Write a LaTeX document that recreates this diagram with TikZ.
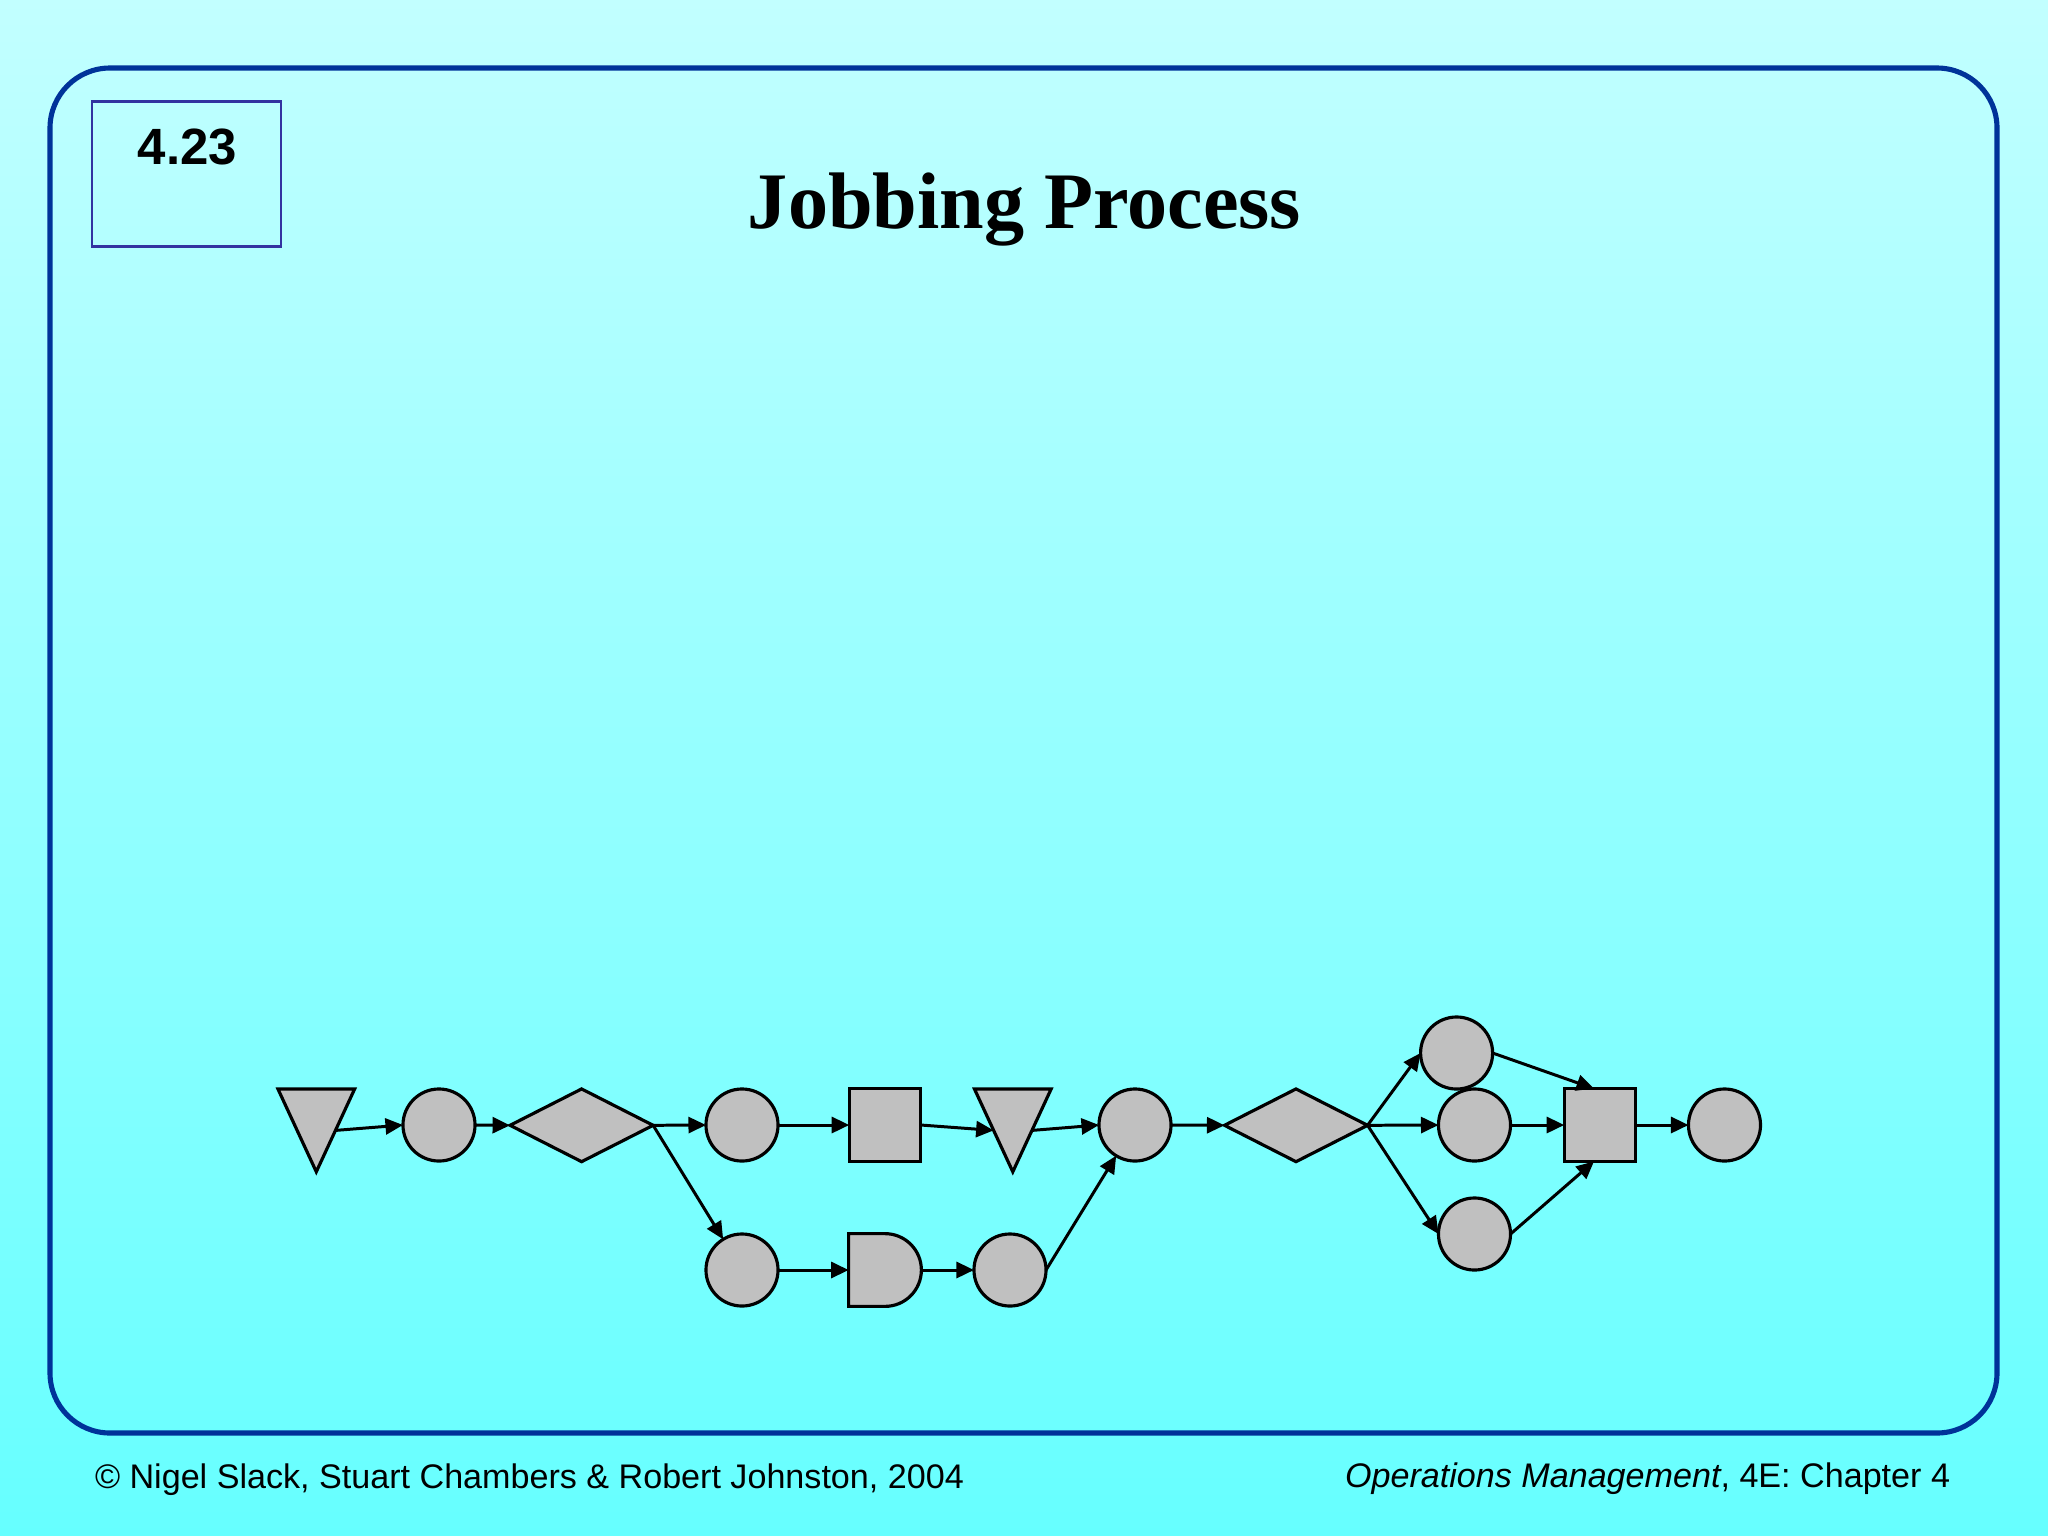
\documentclass[tikz,border=0pt]{standalone}
\usepackage{fontspec}
\setmainfont{Liberation Sans}
\newfontfamily\titlefont{Liberation Serif}
\usetikzlibrary{shapes.geometric,shapes.misc,arrows.meta,calc}
\definecolor{bgtop}{RGB}{194,255,255}
\definecolor{bgbot}{RGB}{102,255,255}
\definecolor{framecol}{RGB}{0,51,153}
\definecolor{boxcol}{RGB}{51,51,160}
\definecolor{shapegray}{RGB}{192,192,192}
\begin{document}
\begin{tikzpicture}[x=0.01cm,y=-0.01cm,
  every node/.style={inner sep=0pt, outer sep=0pt},
  shapeline/.style={draw=black, fill=shapegray, line width=0.9pt, line join=miter},
  opcircle/.style={shapeline, shape=circle, minimum size=0.72cm},
  opsquare/.style={shapeline, shape=rectangle, minimum width=0.715cm, minimum height=0.727cm},
  opdiamond/.style={shapeline, shape=diamond, minimum width=1.43cm, minimum height=0.727cm},
  opdelay/.style={shapeline, shape=rounded rectangle, rounded rectangle left arc=none, minimum width=0.72cm, minimum height=0.727cm},
  tribox/.style={shape=rectangle, minimum width=0.766cm, minimum height=0.827cm},
  conn/.style={draw=black, line width=0.85pt, -{Triangle[length=0.175cm,width=0.16cm]}},
  footer/.style={font=\fontsize{9.7}{11.5}\selectfont}
]
\useasboundingbox (0,0) rectangle (2048,1536);
\shade[top color=bgtop, bottom color=bgbot] (0,0) rectangle (2048,1536);

% frame
\draw[framecol, line width=1.45pt, rounded corners=0.6cm] (50,68) rectangle (1997,1433);
% number box
\node[draw=boxcol, line width=0.8pt, minimum width=1.89cm, minimum height=1.45cm] (numbox) at (186.5,174.2) {};
\node[anchor=base, font=\fontsize{14.5}{17}\selectfont\bfseries] (num) at (187.5,164) {4.23};
% title
\node[anchor=base, font=\titlefont\fontsize{22.8}{27}\selectfont\bfseries] (title) at (1024.5,228) {Jobbing Process};

% shapes
\node[tribox] (t1) at (316.3,1130.4) {};
\draw[shapeline] (t1.north west) -- (t1.north east) -- (t1.south) -- cycle;
\node[opcircle] (c1) at (439,1125) {};
\node[opdiamond] (d1) at (581.6,1125.3) {};
\node[opcircle] (c2) at (742,1125) {};
\node[opsquare] (s1) at (885,1125) {};
\node[tribox] (t2) at (1012.8,1130.4) {};
\draw[shapeline] (t2.north west) -- (t2.north east) -- (t2.south) -- cycle;
\node[opcircle] (c5) at (1135,1125) {};
\node[opdiamond] (d2) at (1296,1125.3) {};
\node[opcircle] (ct) at (1456.6,1053) {};
\node[opcircle] (cm) at (1474.5,1125) {};
\node[opcircle] (cb) at (1474.5,1234) {};
\node[opsquare] (s2) at (1600,1125) {};
\node[opcircle] (c6) at (1724.5,1125) {};
\node[opcircle] (c3) at (742,1270) {};
\node[opdelay] (dd) at (885,1270) {};
\node[opcircle] (c4) at (1010,1270) {};

\coordinate (t1r) at ($(t1.north east)!0.5!(t1.south)$);
\coordinate (t2l) at ($(t2.north west)!0.5!(t2.south)$);
\coordinate (t2r) at ($(t2.north east)!0.5!(t2.south)$);

% connectors
\draw[conn] (t1r) -- (c1.west);
\draw[conn] (c1.east) -- (d1.west);
\draw[conn] (d1.east) -- (c2.west);
\draw[conn] (c2.east) -- (s1.west);
\draw[conn] (s1.east) -- (t2l);
\draw[conn] (t2r) -- (c5.west);
\draw[conn] (c5.east) -- (d2.west);
\draw[conn] (d2.east) -- (ct.west);
\draw[conn] (d2.east) -- (cm.west);
\draw[conn] (d2.east) -- (cb.west);
\draw[conn] (ct.east) -- ($(s2.north)+(-6,0)$);
\draw[conn] (cm.east) -- (s2.west);
\draw[conn] (cb.east) -- ($(s2.south)+(-6,0)$);
\draw[conn] (s2.east) -- (c6.west);
\draw[conn] (d1.east) -- (c3);
\draw[conn] (c3.east) -- (dd.west);
\draw[conn] (dd.east) -- (c4.west);
\draw[conn] (c4.east) -- (c5);

% footers
\node[footer, anchor=base west] (copy) at (95,1488) {© Nigel Slack, Stuart Chambers \& Robert Johnston, 2004};
\node[footer, anchor=base east] (book) at (1950,1487) {\textit{Operations Management}, 4E: Chapter 4};
\end{tikzpicture}
\end{document}
